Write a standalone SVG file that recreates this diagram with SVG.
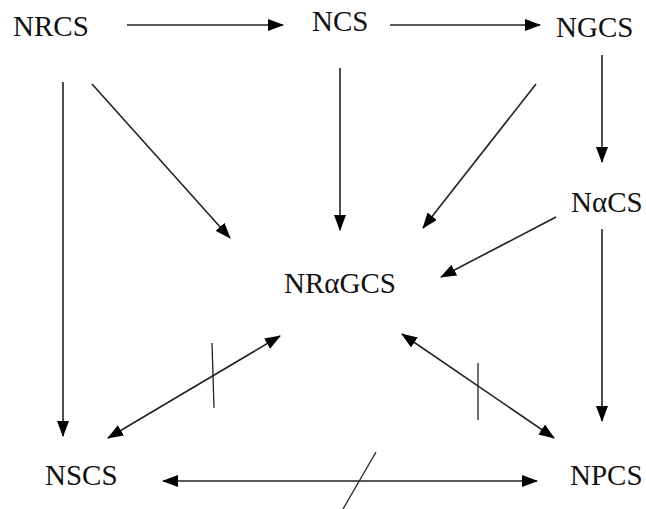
<svg xmlns="http://www.w3.org/2000/svg" width="646" height="509" viewBox="0 0 646 509">
<style>
.lbl{font-family:"Liberation Serif","Times New Roman",serif;font-size:29px;fill:#111;}
.c{stroke:#222;stroke-width:1.6;fill:none;}
.e{marker-end:url(#ah);}
.b{marker-start:url(#ah);marker-end:url(#ah);}
.t{stroke:#222;stroke-width:1.3;fill:none;}
</style>
<defs>
<marker id="ah" markerUnits="userSpaceOnUse" markerWidth="16" markerHeight="12" refX="15" refY="6" orient="auto-start-reverse">
<path d="M0,0 L16,6 L0,12 z" fill="#000"/>
</marker>
</defs>
<rect width="646" height="509" fill="#fff"/>
<g id="connectors">
<path class="c e" d="M127,25 L283,25"/>
<path class="c e" d="M390,25 L540,25"/>
<path class="c e" d="M63,82 L63,436"/>
<path class="c e" d="M92,84 L230,238"/>
<path class="c e" d="M340,68 L340,230"/>
<path class="c e" d="M536,84 L423,228"/>
<path class="c e" d="M602,55 L602,162"/>
<path class="c e" d="M556,217 L441,277"/>
<path class="c e" d="M602,229 L602,421"/>
<path class="c b" d="M280,336 L108,438"/>
<path class="c b" d="M402,334 L554,438"/>
<path class="c b" d="M163,481 L537,481"/>
<path class="t" d="M212,343 L214,408"/>
<path class="t" d="M478,363 L478,420"/>
<path class="t" d="M376,452 L343,509"/>
</g>
<g id="NRCS"><text class="lbl" x="13" y="36">NRCS</text></g>
<g id="NCS"><text class="lbl" x="312" y="31">NCS</text></g>
<g id="NGCS"><text class="lbl" x="556" y="37">NGCS</text></g>
<g id="NaCS"><text class="lbl" x="571" y="212">NαCS</text></g>
<g id="NRaGCS"><text class="lbl" x="284" y="293">NRαGCS</text></g>
<g id="NSCS"><text class="lbl" x="45" y="485">NSCS</text></g>
<g id="NPCS"><text class="lbl" x="570" y="485">NPCS</text></g>
</svg>
